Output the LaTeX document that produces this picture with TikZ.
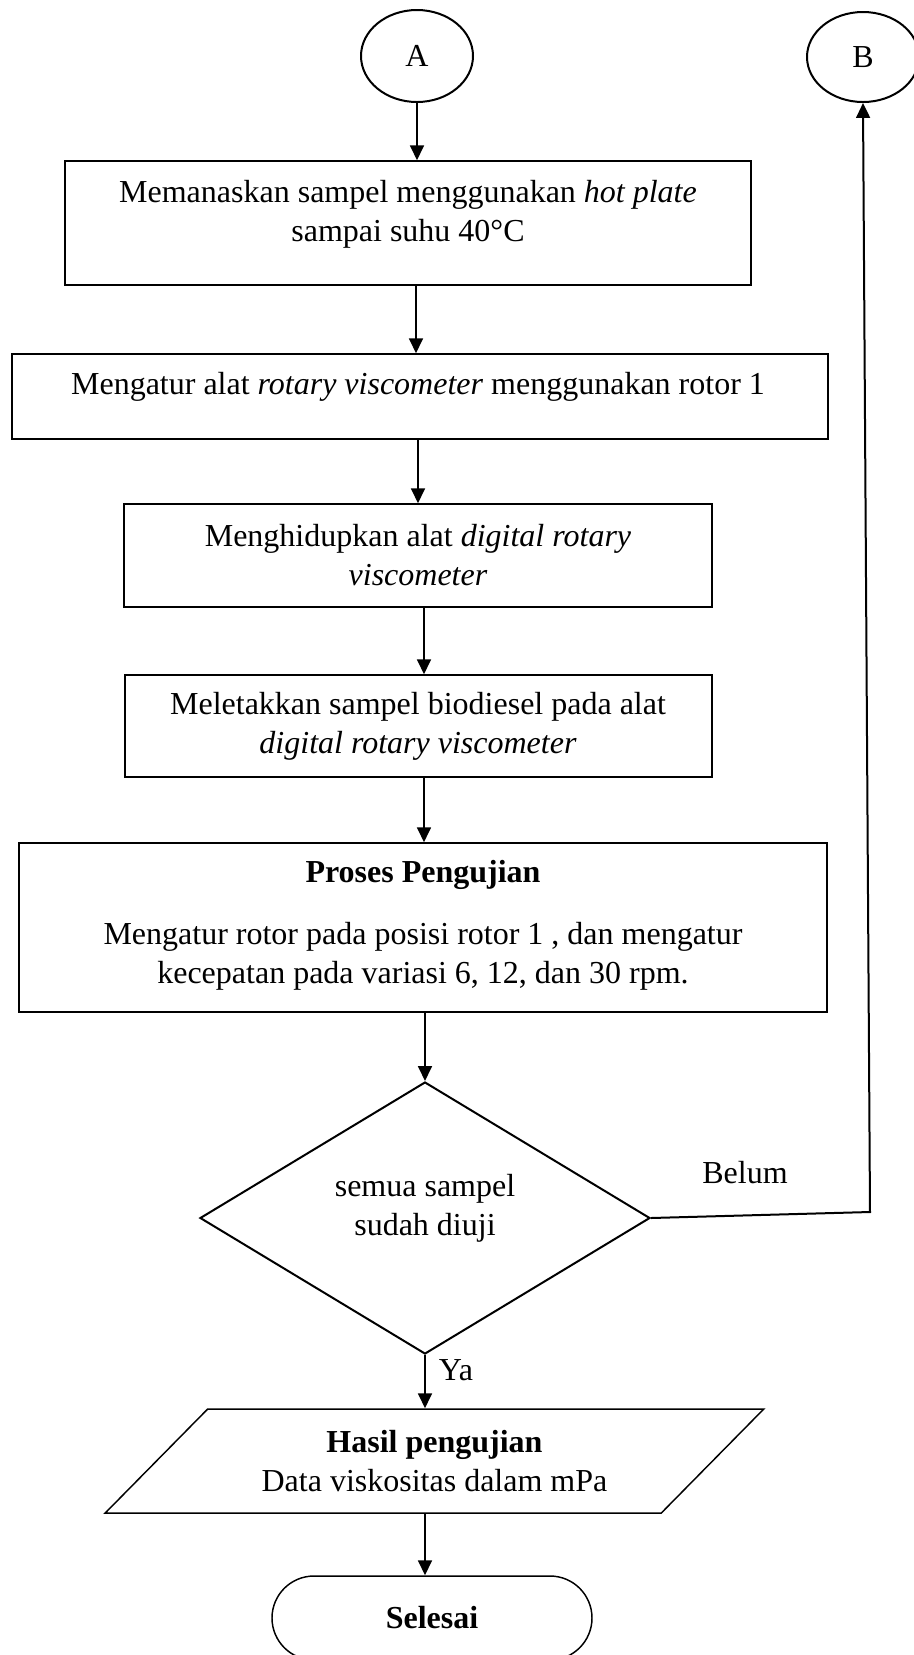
\documentclass[tikz,border=0pt]{standalone}
\usepackage{fontspec}
\setmainfont{Liberation Serif}
\usetikzlibrary{shapes.geometric,arrows.meta}
\begin{document}
\begin{tikzpicture}[x=0.375pt,y=-0.375pt,
  font=\fontsize{12}{14.6}\selectfont,
  conn/.style={line width=0.75pt,-{Triangle[length=5.6pt,width=5.2pt]}},
  procbox/.style={draw,line width=0.55pt,rectangle,inner sep=0pt},
  conbox/.style={draw,line width=0.75pt,ellipse,inner sep=0pt,minimum width=42pt,minimum height=34.5pt},
  txt/.style={align=center,inner sep=0pt},
  boldtxt/.style={align=center,inner sep=0pt,font=\fontsize{12}{14.6}\selectfont\bfseries},
]
\useasboundingbox (0,0) rectangle (914,1655);
% connectors (circles)
\node[conbox] (A) at (417,56) {A};
\node[conbox,minimum height=33.75pt] (B) at (863,57) {B};
% process boxes
\node[procbox,minimum width=257.25pt,minimum height=46.5pt] (b1) at (408,223) {};
\node[txt] (t1) at (408,214) {Memanaskan sampel menggunakan \textit{hot plate}\\sampai suhu 40°C};
\node[procbox,minimum width=306pt,minimum height=31.875pt] (b2) at (420,396.5) {};
\node[txt] (t2) at (418,387) {Mengatur alat \textit{rotary viscometer} menggunakan rotor 1};
\node[procbox,minimum width=220.5pt,minimum height=38.625pt] (b3) at (418,555.5) {};
\node[txt] (t3) at (418,555) {Menghidupkan alat \textit{digital rotary}\\\textit{viscometer}};
\node[procbox,minimum width=220.1pt,minimum height=38.25pt] (b4) at (418.5,726) {};
\node[txt] (t4) at (418,726.5) {Meletakkan sampel biodiesel pada alat\\\textit{digital rotary viscometer}};
\node[procbox,minimum width=303pt,minimum height=63.4pt] (b5) at (423,927.5) {};
\node[boldtxt] (t5a) at (423,875) {Proses Pengujian};
\node[txt] (t5b) at (423,956) {Mengatur rotor pada posisi rotor 1 , dan mengatur\\kecepatan pada variasi 6, 12, dan 30 rpm.};
% decision
\node[draw,diamond,line width=0.75pt,inner sep=0pt,minimum width=168.75pt,minimum height=102pt] (dia) at (425,1218) {};
\node[txt] (t6) at (425,1208.5) {semua sampel\\sudah diuji};
\node[txt] (belum) at (745,1173) {Belum};
\node[txt] (ya) at (456,1370) {Ya};
\coordinate (corner) at (870,1212);
% output
\node[draw,trapezium,trapezium left angle=38.2,trapezium right angle=141.8,trapezium stretches=true,
      line width=0.55pt,inner sep=0pt,minimum width=247.1pt,minimum height=39pt,align=center] (para) at (434.5,1461)
  {\textbf{Hasil pengujian}\\Data viskositas dalam mPa};
% terminator
\node[draw,rectangle,rounded corners=15.75pt,line width=0.55pt,inner sep=0pt,minimum width=120pt,minimum height=31.5pt,
      font=\fontsize{12}{14.6}\selectfont\bfseries] (term) at (432,1618) {Selesai};
% arrows
\draw[conn] (A.south) -- (A.south |- b1.north);
\draw[conn] ([xshift=3pt]b1.south) -- ([xshift=3pt]b1.south |- b2.north);
\draw[conn] ([xshift=-0.75pt]b2.south) -- ([xshift=-0.75pt]b2.south |- b3.north);
\draw[conn] ([xshift=2.25pt]b3.south) -- ([xshift=2.25pt]b3.south |- b4.north);
\draw[conn] ([xshift=2.06pt]b4.south) -- ([xshift=2.06pt]b4.south |- b5.north);
\draw[conn] (b5.south -| dia.north) -- (dia.north);
\draw[conn] (dia.south) -- (dia.south |- para.north);
\draw[conn] (para.south -| dia.south) -- (term.north -| dia.south);
\draw[conn] (dia.east) -- (corner) -- (B.south);
\end{tikzpicture}
\end{document}
